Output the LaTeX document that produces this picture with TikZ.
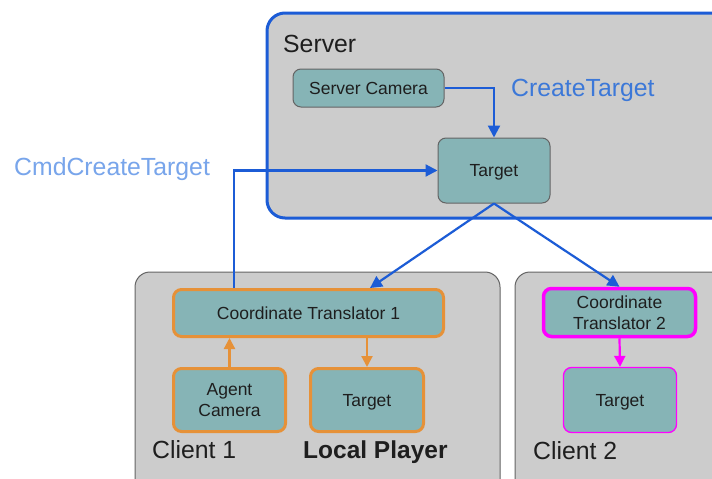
\documentclass[tikz,border=0pt]{standalone}
\usepackage{fontspec}
\setmainfont{Liberation Sans}
\usetikzlibrary{arrows.meta}
\definecolor{lineblue}{RGB}{28,92,214}
\definecolor{lblblue}{RGB}{60,120,216}
\definecolor{lightblue}{RGB}{120,165,235}
\definecolor{orng}{RGB}{230,145,56}
\definecolor{mgnt}{RGB}{255,0,255}
\definecolor{boxfill}{RGB}{134,180,182}
\definecolor{areafill}{RGB}{204,204,204}
\definecolor{areadraw}{RGB}{100,100,100}
\definecolor{txt}{RGB}{30,30,30}
\tikzset{
  area/.style={fill=areafill, draw=areadraw, line width=1pt, rounded corners=15pt},
  srvarea/.style={fill=areafill, draw=lineblue, line width=3pt, rounded corners=18pt},
  box/.style={rectangle, rounded corners=8pt, fill=boxfill, text=txt, align=center,
    font=\fontsize{17.5}{21}\selectfont, inner sep=0pt},
  oneline/.style={text height=12.5pt, text depth=0pt},
  greybox/.style={box, draw=areadraw, line width=1pt},
  orangebox/.style={box, draw=orng, line width=3pt},
  magbox/.style={box, draw=mgnt, line width=3.5pt},
  magthin/.style={box, draw=mgnt, line width=1.3pt},
  bigtxt/.style={font=\fontsize{24.8}{28}\selectfont, inner sep=0pt, anchor=base west},
  bluearrow/.style={draw=lineblue, line width=2.2pt, -{Triangle[length=12pt,width=12pt]}},
  orangearrow/.style={draw=orng, line width=2.2pt, -{Triangle[length=11pt,width=11pt]}},
  magarrow/.style={draw=mgnt, line width=2.2pt, -{Triangle[length=11pt,width=11pt]}},
}
\begin{document}
\begin{tikzpicture}[x=1pt,y=-1pt]
\useasboundingbox (0,0) rectangle (712,479);
\fill[white] (0,0) rectangle (712,479);
% areas
\draw[srvarea] (267,13) rectangle (740,218);
\draw[area] (135,272) rectangle (500,500);
\draw[area] (515,272) rectangle (740,500);
% labels
\node[bigtxt, text=txt] (lserver) at (283,52) {Server};
\node[bigtxt, text=lblblue] (lcreate) at (511,96) {CreateTarget};
\node[bigtxt, text=lightblue] (lcmd) at (14,175) {CmdCreateTarget};
\node[bigtxt, text=txt] (lclient1) at (152,458) {Client 1};
\node[bigtxt, text=txt, font=\fontsize{24.5}{28}\selectfont\bfseries] (llocal) at (303,458) {Local Player};
\node[bigtxt, text=txt] (lclient2) at (533,459) {Client 2};
% nodes
\node[greybox, oneline, minimum width=151pt, minimum height=38pt] (scam) at (368.5,88) {Server Camera};
\node[greybox, oneline, minimum width=112pt, minimum height=65pt] (stgt) at (494,170.5) {Target};
\node[orangebox, oneline, minimum width=270pt, minimum height=47pt] (ct1) at (308.5,313) {Coordinate Translator 1};
\node[orangebox, minimum width=112pt, minimum height=63pt] (acam) at (229.5,400) {Agent\\Camera};
\node[orangebox, oneline, minimum width=113pt, minimum height=63pt] (ltgt) at (367,400) {Target};
\node[magbox, minimum width=152pt, minimum height=48pt] (ct2) at (619.5,312.5) {Coordinate\\Translator 2};
\node[magthin, oneline, minimum width=113pt, minimum height=65pt] (tgt2) at (620,400) {Target};
% connectors
\draw[bluearrow] (234,0 |- ct1.north) |- (stgt.west);
\draw[bluearrow] (scam.east) -| (stgt.north);
\draw[bluearrow] (stgt.south) -- (370,0 |- ct1.north);
\draw[bluearrow] (stgt.south) -- (ct2.north);
\draw[orangearrow] (acam.north) -- (229.5,0 |- ct1.south);
\draw[orangearrow] (367,0 |- ct1.south) -- (ltgt.north);
\draw[magarrow] (ct2.south) -- (tgt2.north);
\end{tikzpicture}
\end{document}
